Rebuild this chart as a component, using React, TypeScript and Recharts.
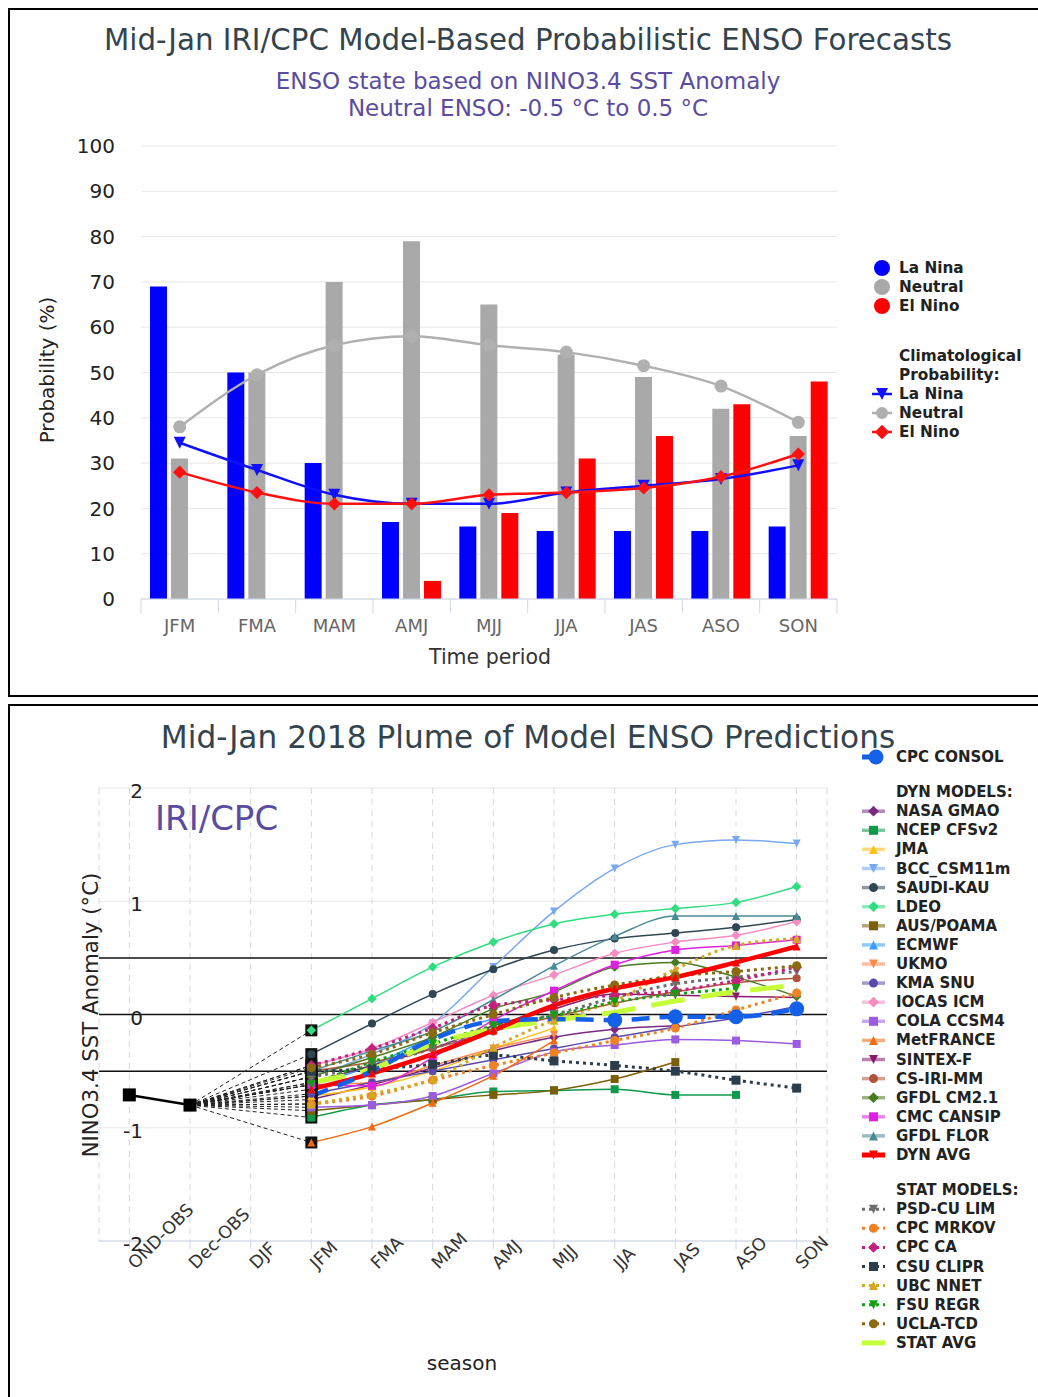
import React from 'react';
import {
  ComposedChart,
  LineChart,
  Bar,
  Line,
  XAxis,
  YAxis,
  CartesianGrid,
  ReferenceLine,
} from 'recharts';

const FONT = '"DejaVu Sans", Verdana, sans-serif';
const TITLE_COLOR = '#34444e';
const SUB_COLOR = '#5a4ca0';

// ---------------- Top chart data ----------------
const PERIODS = ['JFM', 'FMA', 'MAM', 'AMJ', 'MJJ', 'JJA', 'JAS', 'ASO', 'SON'];
const LA_NINA = [69, 50, 30, 17, 16, 15, 15, 15, 16];
const NEUTRAL = [31, 50, 70, 79, 65, 54, 49, 42, 36];
const EL_NINO = [0, 0, 0, 4, 19, 31, 36, 43, 48];
const CLIM_LA_NINA = [34.5, 28.5, 23, 21, 21, 23.5, 25, 26.5, 29.5];
const CLIM_NEUTRAL = [38, 49.5, 56, 58, 56, 54.5, 51.5, 47, 39];
const CLIM_EL_NINO = [28, 23.5, 21, 21, 23, 23.5, 24.5, 27, 32];
const PROB_TICKS = [0, 10, 20, 30, 40, 50, 60, 70, 80, 90, 100];

// ---------------- Bottom chart data ----------------
const SEASONS = ['OND-OBS', 'Dec-OBS', 'DJF', 'JFM', 'FMA', 'MAM', 'AMJ', 'MJJ', 'JJA', 'JAS', 'ASO', 'SON'];
const OBS_SEASONS = ['OND-OBS', 'Dec-OBS'];
const OBS_VALUES = [-0.71, -0.8];
const FORECAST_SEASONS = ['JFM', 'FMA', 'MAM', 'AMJ', 'MJJ', 'JJA', 'JAS', 'ASO', 'SON'];
const ANOMALY_TICKS = [-2, -1, 0, 1, 2];
const NEUTRAL_BOUNDS = [0.5, 0, -0.5];

const CPC_CONSOL = [-0.72, -0.5, -0.22, -0.06, -0.04, -0.05, -0.02, -0.02, 0.05];
const CONSOL_MARKER_SEASONS = ['JJA', 'JAS', 'ASO', 'SON'];

const NASA_GMAO = [-0.75, -0.62, -0.47, -0.32, -0.2, -0.13, -0.1, null, null];
const NCEP_CFSV2 = [-0.91, -0.8, -0.75, -0.68, -0.67, -0.66, -0.71, -0.71, null];
const JMA = [-0.72, -0.64, -0.5, -0.3, -0.12, null, null, null, null];
const BCC_CSM11M = [-0.55, -0.35, -0.08, 0.42, 0.91, 1.29, 1.5, 1.54, 1.51];
const SAUDI_KAU = [-0.35, -0.08, 0.18, 0.4, 0.57, 0.67, 0.72, 0.77, 0.84];
const LDEO = [-0.14, 0.14, 0.42, 0.64, 0.8, 0.885, 0.935, 0.99, 1.13];
const AUS_POAMA = [-0.85, -0.8, -0.75, -0.71, -0.67, -0.57, -0.42, null, null];
const ECMWF = [-0.62, -0.45, -0.2, -0.04, null, null, null, null, null];
const UKMO = [-0.62, -0.6, -0.45, -0.3, -0.18, null, null, null, null];
const KMA_SNU = [-0.7, -0.6, -0.5, -0.4, -0.3, -0.2, -0.11, -0.03, 0.07];
const IOCAS_ICM = [-0.45, -0.3, -0.07, 0.17, 0.35, 0.54, 0.64, 0.7, 0.82];
const COLA_CCSM4 = [-0.82, -0.8, -0.72, -0.52, -0.33, -0.27, -0.22, -0.23, -0.26];
const MET_FRANCE = [-1.13, -0.99, -0.78, -0.54, -0.23, null, null, null, null];
const SINTEX_F = [-0.6, -0.45, -0.3, -0.1, 0.05, 0.18, 0.17, 0.16, 0.15];
const CS_IRI_MM = [-0.5, -0.42, -0.3, -0.15, -0.02, 0.1, 0.2, 0.28, 0.32];
const GFDL_CM21 = [-0.55, -0.38, -0.2, 0.05, 0.2, 0.42, 0.46, 0.33, 0.16];
const CMC_CANSIP = [-0.62, -0.63, -0.38, -0.05, 0.21, 0.44, 0.57, 0.61, 0.66];
const GFDL_FLOR = [-0.5, -0.32, -0.15, 0.13, 0.43, 0.69, 0.87, 0.87, 0.87];
const DYN_AVG = [-0.66, -0.52, -0.35, -0.14, 0.08, 0.23, 0.33, 0.46, 0.6];

const PSD_CU_LIM = [-0.55, -0.45, -0.3, -0.12, 0.0, 0.15, 0.27, 0.33, 0.38];
const CPC_MRKOV = [-0.79, -0.72, -0.58, -0.45, -0.34, -0.23, -0.12, 0.04, 0.19];
const CPC_CA = [-0.45, -0.3, -0.12, 0.08, 0.13, 0.17, 0.21, 0.3, 0.42];
const CSU_CLIPR = [-0.5, -0.48, -0.44, -0.36, -0.41, -0.45, -0.5, -0.58, -0.65];
const UBC_NNET = [-0.79, -0.7, -0.57, -0.29, -0.05, 0.12, 0.4, 0.61, 0.67];
const FSU_REGR = [-0.62, -0.42, -0.26, -0.1, -0.01, 0.11, 0.18, 0.23, null];
const UCLA_TCD = [-0.47, -0.35, -0.16, 0.0, 0.15, 0.26, 0.34, 0.38, 0.43];
const STAT_AVG = [-0.6, -0.48, -0.26, -0.13, -0.05, 0.02, 0.12, 0.2, 0.26];

type Sym = 'circle' | 'square' | 'diamond' | 'triangle' | 'triangle-down' | 'none';
type Model = { id: string; name: string; color: string; symbol: Sym; values: (number | null)[] };

const CONSOL: Model = { id: 'consol', name: 'CPC CONSOL', color: '#1560e8', symbol: 'circle', values: CPC_CONSOL };

const DYN_MODELS: Model[] = [
  { id: 'nasa', name: 'NASA GMAO', color: '#7b2a80', symbol: 'diamond', values: NASA_GMAO },
  { id: 'ncep', name: 'NCEP CFSv2', color: '#0e9a4c', symbol: 'square', values: NCEP_CFSV2 },
  { id: 'jma', name: 'JMA', color: '#ffbe1a', symbol: 'triangle', values: JMA },
  { id: 'bcc', name: 'BCC_CSM11m', color: '#78a8f0', symbol: 'triangle-down', values: BCC_CSM11M },
  { id: 'saudi', name: 'SAUDI-KAU', color: '#2f4753', symbol: 'circle', values: SAUDI_KAU },
  { id: 'ldeo', name: 'LDEO', color: '#30de80', symbol: 'diamond', values: LDEO },
  { id: 'aus', name: 'AUS/POAMA', color: '#7a5e08', symbol: 'square', values: AUS_POAMA },
  { id: 'ecmwf', name: 'ECMWF', color: '#38a0f5', symbol: 'triangle', values: ECMWF },
  { id: 'ukmo', name: 'UKMO', color: '#ff8a4c', symbol: 'triangle-down', values: UKMO },
  { id: 'kma', name: 'KMA SNU', color: '#5a48aa', symbol: 'circle', values: KMA_SNU },
  { id: 'iocas', name: 'IOCAS ICM', color: '#f68cc0', symbol: 'diamond', values: IOCAS_ICM },
  { id: 'cola', name: 'COLA CCSM4', color: '#9c5ce0', symbol: 'square', values: COLA_CCSM4 },
  { id: 'metf', name: 'MetFRANCE', color: '#f26a12', symbol: 'triangle', values: MET_FRANCE },
  { id: 'sintex', name: 'SINTEX-F', color: '#8a1a6c', symbol: 'triangle-down', values: SINTEX_F },
  { id: 'csiri', name: 'CS-IRI-MM', color: '#b0533a', symbol: 'circle', values: CS_IRI_MM },
  { id: 'gfdl21', name: 'GFDL CM2.1', color: '#4a7a22', symbol: 'diamond', values: GFDL_CM21 },
  { id: 'cmc', name: 'CMC CANSIP', color: '#e020e0', symbol: 'square', values: CMC_CANSIP },
  { id: 'flor', name: 'GFDL FLOR', color: '#4a8a96', symbol: 'triangle', values: GFDL_FLOR },
];
const DYN_AVERAGE: Model = { id: 'dynavg', name: 'DYN AVG', color: '#ff0000', symbol: 'triangle-down', values: DYN_AVG };

const STAT_MODELS: Model[] = [
  { id: 'psd', name: 'PSD-CU LIM', color: '#6e6e6e', symbol: 'triangle-down', values: PSD_CU_LIM },
  { id: 'mrkov', name: 'CPC MRKOV', color: '#f08224', symbol: 'circle', values: CPC_MRKOV },
  { id: 'ca', name: 'CPC CA', color: '#c4207e', symbol: 'diamond', values: CPC_CA },
  { id: 'csu', name: 'CSU CLIPR', color: '#2c3e4c', symbol: 'square', values: CSU_CLIPR },
  { id: 'ubc', name: 'UBC NNET', color: '#d4a820', symbol: 'triangle', values: UBC_NNET },
  { id: 'fsu', name: 'FSU REGR', color: '#12a012', symbol: 'triangle-down', values: FSU_REGR },
  { id: 'ucla', name: 'UCLA-TCD', color: '#8a6a10', symbol: 'circle', values: UCLA_TCD },
];
const STAT_AVERAGE: Model = { id: 'statavg', name: 'STAT AVG', color: '#c4ff3a', symbol: 'none', values: STAT_AVG };

const ALL_FORECASTS: Model[] = [...DYN_MODELS, ...STAT_MODELS, DYN_AVERAGE, STAT_AVERAGE, CONSOL];

// ---------------- Data tables built from the arrays ----------------
const topData = PERIODS.map((p, i) => ({
  period: p,
  laNina: LA_NINA[i],
  neutral: NEUTRAL[i],
  elNino: EL_NINO[i],
  climLaNina: CLIM_LA_NINA[i],
  climNeutral: CLIM_NEUTRAL[i],
  climElNino: CLIM_EL_NINO[i],
}));

const plumeData = SEASONS.map((season) => {
  const row: any = { season };
  const oi = OBS_SEASONS.indexOf(season);
  row.obs = oi >= 0 ? OBS_VALUES[oi] : null;
  const fi = FORECAST_SEASONS.indexOf(season);
  const lastObs = OBS_VALUES[OBS_VALUES.length - 1];
  ALL_FORECASTS.forEach((m) => {
    row[m.id] = fi >= 0 ? m.values[fi] : null;
    if (season === OBS_SEASONS[OBS_SEASONS.length - 1]) row[m.id + '_link'] = lastObs;
    else if (fi === 0) row[m.id + '_link'] = m.values[0];
    else row[m.id + '_link'] = null;
  });
  return row;
});

// ---------------- Markers ----------------
function shape(sym: Sym, cx: number, cy: number, r: number, fill: string, key?: string) {
  if (sym === 'none') return <g key={key} />;
  if (sym === 'circle') return <circle key={key} cx={cx} cy={cy} r={r} fill={fill} />;
  if (sym === 'square')
    return <rect key={key} x={cx - r} y={cy - r} width={2 * r} height={2 * r} fill={fill} />;
  if (sym === 'diamond')
    return (
      <path key={key} d={`M${cx},${cy - r * 1.2}L${cx + r * 1.2},${cy}L${cx},${cy + r * 1.2}L${cx - r * 1.2},${cy}Z`} fill={fill} />
    );
  if (sym === 'triangle')
    return <path key={key} d={`M${cx},${cy - r}L${cx + r},${cy + r}L${cx - r},${cy + r}Z`} fill={fill} />;
  return <path key={key} d={`M${cx - r},${cy - r}L${cx + r},${cy - r}L${cx},${cy + r}Z`} fill={fill} />;
}

const dotFn = (id: string, sym: Sym, r: number, fill: string, only?: string[]) => (p: any) => {
  const key = `${id}-${p.index}`;
  if (p.cx == null || p.cy == null || p.value == null || (Array.isArray(p.value) && p.value[1] == null)) return <g key={key} />;
  if (only && p.payload && only.indexOf(p.payload.season) < 0) return <g key={key} />;
  return shape(sym, p.cx, p.cy, r, fill, key);
};

// ---------------- Top chart ----------------
const TOP_W = 1030;
const TOP_H = 688;
const TOP_PLOT_W = 696;
const TOP_BAND = TOP_PLOT_W / PERIODS.length;

const TopXTick = (props: any) => {
  const { x, y, payload, index } = props;
  const half = TOP_BAND / 2;
  return (
    <g>
      <line x1={x - half} x2={x - half} y1={y} y2={y + 14} stroke="#ccd6eb" strokeWidth={1} />
      {index === PERIODS.length - 1 && (
        <line x1={x + half} x2={x + half} y1={y} y2={y + 14} stroke="#ccd6eb" strokeWidth={1} />
      )}
      <text x={x} y={y + 26} textAnchor="middle" dominantBaseline="central" fill="#666666" fontSize={18} fontFamily={FONT}>
        {payload.value}
      </text>
    </g>
  );
};

function TopChart() {
  return (
    <ComposedChart
      width={TOP_W}
      height={TOP_H}
      data={topData}
      margin={{ top: 138, right: 201, bottom: 37, left: 73 }}
      barGap={4}
    >
      <CartesianGrid horizontal vertical={false} stroke="#e6e6e6" />
      <XAxis
        dataKey="period"
        height={60}
        axisLine={{ stroke: '#ccd6eb' }}
        tickLine={false}
        tickSize={0}
        tickMargin={0}
        interval={0}
        tick={<TopXTick />}
      />
      <YAxis
        width={60}
        domain={[0, 100]}
        ticks={PROB_TICKS}
        interval={0}
        axisLine={false}
        tickLine={false}
        tickSize={0}
        tickMargin={26}
        tick={{ fontSize: 20, fill: '#222', fontFamily: FONT }}
      />
      <Bar dataKey="laNina" fill="#0000ff" barSize={17} isAnimationActive={false} />
      <Bar dataKey="neutral" fill="#a9a9a9" barSize={17} isAnimationActive={false} />
      <Bar dataKey="elNino" fill="#ff0000" barSize={17} isAnimationActive={false} />
      <Line
        dataKey="climNeutral"
        type="monotone"
        stroke="#b0b0b0"
        strokeWidth={2.5}
        dot={dotFn('cn', 'circle', 6.5, '#b0b0b0')}
        activeDot={false}
        isAnimationActive={false}
      />
      <Line
        dataKey="climLaNina"
        type="monotone"
        stroke="#1010ff"
        strokeWidth={2.5}
        dot={dotFn('cl', 'triangle-down', 6, '#1010ff')}
        activeDot={false}
        isAnimationActive={false}
      />
      <Line
        dataKey="climElNino"
        type="monotone"
        stroke="#ff1010"
        strokeWidth={2.5}
        dot={dotFn('ce', 'diamond', 5.5, '#ff1010')}
        activeDot={false}
        isAnimationActive={false}
      />
    </ComposedChart>
  );
}

// ---------------- Bottom chart ----------------
const BOT_W = 1030;
const BOT_H = 693;

const BottomXTick = (props: any) => {
  const { x, y, payload } = props;
  const x0 = x + 6;
  const y0 = y + 21;
  return (
    <text
      x={x0}
      y={y0}
      transform={`rotate(-45 ${x0} ${y0})`}
      textAnchor="start"
      fill="#333"
      fontSize={17.5}
      fontFamily={FONT}
    >
      {payload.value}
    </text>
  );
};

const BottomYTick = (props: any) => {
  const { x, y, payload } = props;
  return (
    <text x={x + 44} y={y + 3} textAnchor="end" dominantBaseline="central" fill="#222" fontSize={20} fontFamily={FONT}>
      {payload.value}
    </text>
  );
};

function BottomChart() {
  const firstForecast = [FORECAST_SEASONS[0]];
  return (
    <LineChart
      width={BOT_W}
      height={BOT_H}
      data={plumeData}
      margin={{ top: 84, right: 211, bottom: 96, left: 31 }}
    >
      <CartesianGrid horizontal vertical={false} stroke="#e6e6e6" />
      <CartesianGrid horizontal={false} vertical stroke="#d9d9d9" strokeDasharray="6 5" />
      <XAxis
        dataKey="season"
        scale="band"
        height={60}
        axisLine={{ stroke: '#ccd6eb' }}
        tickLine={{ stroke: '#ccd6eb' }}
        tickSize={8}
        tickMargin={0}
        interval={0}
        tick={<BottomXTick />}
      />
      <YAxis
        width={60}
        domain={[-2, 2]}
        ticks={ANOMALY_TICKS}
        interval={0}
        axisLine={false}
        tickLine={false}
        tickSize={0}
        tickMargin={0}
        tick={<BottomYTick />}
      />
      {NEUTRAL_BOUNDS.map((v) => (
        <ReferenceLine key={v} y={v} stroke="#111" strokeWidth={1.5} />
      ))}
      {ALL_FORECASTS.map((m) => (
        <Line
          key={m.id + '_link'}
          dataKey={m.id + '_link'}
          type="linear"
          stroke="#222"
          strokeWidth={1}
          strokeDasharray="4 3"
          connectNulls
          dot={dotFn(m.id + 'L', 'square', 6, '#111', firstForecast)}
          activeDot={false}
          isAnimationActive={false}
        />
      ))}
      <Line
        dataKey="obs"
        type="linear"
        stroke="#000"
        strokeWidth={2.5}
        dot={dotFn('obs', 'square', 6.5, '#000')}
        activeDot={false}
        isAnimationActive={false}
      />
      {DYN_MODELS.map((m) => (
        <Line
          key={m.id}
          dataKey={m.id}
          type="monotone"
          stroke={m.color}
          strokeWidth={1.5}
          dot={dotFn(m.id, m.symbol, 4, m.color)}
          activeDot={false}
          isAnimationActive={false}
        />
      ))}
      {STAT_MODELS.map((m) => (
        <Line
          key={m.id}
          dataKey={m.id}
          type="monotone"
          stroke={m.color}
          strokeWidth={3}
          strokeDasharray="3 4"
          dot={dotFn(m.id, m.symbol, 4.5, m.color)}
          activeDot={false}
          isAnimationActive={false}
        />
      ))}
      <Line
        dataKey={STAT_AVERAGE.id}
        type="monotone"
        stroke={STAT_AVERAGE.color}
        strokeWidth={5}
        strokeDasharray="34 16"
        dot={false}
        activeDot={false}
        isAnimationActive={false}
      />
      <Line
        dataKey={DYN_AVERAGE.id}
        type="monotone"
        stroke={DYN_AVERAGE.color}
        strokeWidth={4.5}
        dot={dotFn(DYN_AVERAGE.id, 'triangle', 4, DYN_AVERAGE.color)}
        activeDot={false}
        isAnimationActive={false}
      />
      <Line
        dataKey={CONSOL.id}
        type="monotone"
        stroke={CONSOL.color}
        strokeWidth={4.5}
        strokeDasharray="18 10"
        dot={dotFn(CONSOL.id, 'circle', 7.5, CONSOL.color, CONSOL_MARKER_SEASONS)}
        activeDot={false}
        isAnimationActive={false}
      />
    </LineChart>
  );
}

// ---------------- Legends (page coordinates) ----------------
const TOP_LEGEND_BARS = [
  { label: 'La Nina', color: '#0000ff' },
  { label: 'Neutral', color: '#a9a9a9' },
  { label: 'El Nino', color: '#ff0000' },
];
const TOP_LEGEND_CLIM: { label: string; color: string; symbol: Sym }[] = [
  { label: 'La Nina', color: '#1010ff', symbol: 'triangle-down' },
  { label: 'Neutral', color: '#b0b0b0', symbol: 'circle' },
  { label: 'El Nino', color: '#ff1010', symbol: 'diamond' },
];

const LEG_TEXT = { fontSize: 15.3, fontWeight: 700, fill: '#222', fontFamily: FONT } as any;

function TopLegend() {
  return (
    <g>
      {TOP_LEGEND_BARS.map((it, i) => (
        <g key={'b' + i}>
          <circle cx={882} cy={268 + i * 19} r={8} fill={it.color} />
          <text x={899} y={268 + i * 19} dominantBaseline="central" {...LEG_TEXT}>
            {it.label}
          </text>
        </g>
      ))}
      <text x={899} y={356} dominantBaseline="central" {...LEG_TEXT}>
        Climatological
      </text>
      <text x={899} y={375} dominantBaseline="central" {...LEG_TEXT}>
        Probability:
      </text>
      {TOP_LEGEND_CLIM.map((it, i) => {
        const cy = 394 + i * 19;
        return (
          <g key={'c' + i}>
            <line x1={872} x2={892} y1={cy} y2={cy} stroke={it.color} strokeWidth={2.5} />
            {shape(it.symbol, 882, cy, 6, it.color)}
            <text x={899} y={cy} dominantBaseline="central" {...LEG_TEXT}>
              {it.label}
            </text>
          </g>
        );
      })}
    </g>
  );
}

function PlumeLegendItem({ m, y, kind }: { m: Model; y: number; kind: string }) {
  let line: React.ReactNode;
  if (kind === 'consol')
    line = <line x1={862} x2={882} y1={y} y2={y} stroke={m.color} strokeWidth={5} />;
  else if (kind === 'avg')
    line = <line x1={862} x2={885} y1={y} y2={y} stroke={m.color} strokeWidth={5} />;
  else if (kind === 'stat')
    line = <line x1={862} x2={885} y1={y} y2={y} stroke={m.color} strokeWidth={3} strokeDasharray="3 4" />;
  else line = <line x1={862} x2={885} y1={y} y2={y} stroke={m.color} strokeWidth={3.5} opacity={0.55} />;
  const r = kind === 'consol' ? 7.5 : 4.5;
  const cx = kind === 'consol' ? 876 : 873.5;
  return (
    <g>
      {line}
      {shape(m.symbol, cx, y, r, m.color)}
      <text x={896} y={y} dominantBaseline="central" {...LEG_TEXT} fontSize={15}>
        {m.name}
      </text>
    </g>
  );
}

function PlumeLegend() {
  const ROW = 19.1;
  const GAP = 16;
  let y = 757;
  const items: React.ReactNode[] = [];
  items.push(<PlumeLegendItem key="consol" m={CONSOL} y={y} kind="consol" />);
  y += ROW + GAP;
  items.push(
    <text key="dynh" x={896} y={y} dominantBaseline="central" {...LEG_TEXT} fontSize={15}>
      DYN MODELS:
    </text>
  );
  DYN_MODELS.forEach((m) => {
    y += ROW;
    items.push(<PlumeLegendItem key={m.id} m={m} y={y} kind="dyn" />);
  });
  y += ROW;
  items.push(<PlumeLegendItem key={DYN_AVERAGE.id} m={DYN_AVERAGE} y={y} kind="avg" />);
  y += ROW + GAP;
  items.push(
    <text key="stath" x={896} y={y} dominantBaseline="central" {...LEG_TEXT} fontSize={15}>
      STAT MODELS:
    </text>
  );
  STAT_MODELS.forEach((m) => {
    y += ROW;
    items.push(<PlumeLegendItem key={m.id} m={m} y={y} kind="stat" />);
  });
  y += ROW;
  items.push(<PlumeLegendItem key={STAT_AVERAGE.id} m={STAT_AVERAGE} y={y} kind="avg" />);
  return <g>{items}</g>;
}

export default function App() {
  return (
    <div style={{ position: 'fixed', left: 8, top: 8, width: 1030, height: 1389, overflow: 'hidden', fontFamily: FONT, background: '#fff' }}>
      <style>{'html{overflow:hidden;}'}</style>
      <div style={{ position: 'absolute', left: 0, top: 0 }}>
        <TopChart />
      </div>
      <div style={{ position: 'absolute', left: 0, top: 696 }}>
        <BottomChart />
      </div>
      <div
        style={{ position: 'absolute', left: 0, top: 0, width: 1060, height: 689, border: '2px solid #000', boxSizing: 'border-box', pointerEvents: 'none' }}
      />
      <div
        style={{ position: 'absolute', left: 0, top: 696, width: 1060, height: 720, border: '2px solid #000', boxSizing: 'border-box', pointerEvents: 'none' }}
      />
      <svg
        style={{ position: 'absolute', left: 0, top: 0, pointerEvents: 'none' }}
        width={1030}
        height={1389}
        viewBox="8 8 1030 1389"
      >
        <text x={528} y={40} textAnchor="middle" dominantBaseline="central" fill={TITLE_COLOR} fontSize={29.3} fontFamily={FONT}>
          Mid-Jan IRI/CPC Model-Based Probabilistic ENSO Forecasts
        </text>
        <text x={528} y={81} textAnchor="middle" dominantBaseline="central" fill={SUB_COLOR} fontSize={23} fontFamily={FONT}>
          ENSO state based on NINO3.4 SST Anomaly
        </text>
        <text x={528} y={108} textAnchor="middle" dominantBaseline="central" fill={SUB_COLOR} fontSize={23} fontFamily={FONT}>
          Neutral ENSO: -0.5 °C to 0.5 °C
        </text>
        <text x={47} y={370} transform="rotate(-90 47 370)" textAnchor="middle" dominantBaseline="central" fill="#222" fontSize={20} fontFamily={FONT}>
          Probability (%)
        </text>
        <text x={490} y={657} textAnchor="middle" dominantBaseline="central" fill="#333" fontSize={20.5} fontFamily={FONT}>
          Time period
        </text>
        <TopLegend />

        <text x={528} y={737} textAnchor="middle" dominantBaseline="central" fill={TITLE_COLOR} fontSize={31.2} fontFamily={FONT}>
          Mid-Jan 2018 Plume of Model ENSO Predictions
        </text>
        <text x={155} y={818} dominantBaseline="central" fill={SUB_COLOR} fontSize={34} fontFamily={FONT}>
          IRI/CPC
        </text>
        <text x={90} y={1015} transform="rotate(-90 90 1015)" textAnchor="middle" dominantBaseline="central" fill="#222" fontSize={21.3} fontFamily={FONT}>
          NINO3.4 SST Anomaly (°C)
        </text>
        <text x={462} y={1363} textAnchor="middle" dominantBaseline="central" fill="#222" fontSize={20} fontFamily={FONT}>
          season
        </text>
        <PlumeLegend />
      </svg>
    </div>
  );
}
